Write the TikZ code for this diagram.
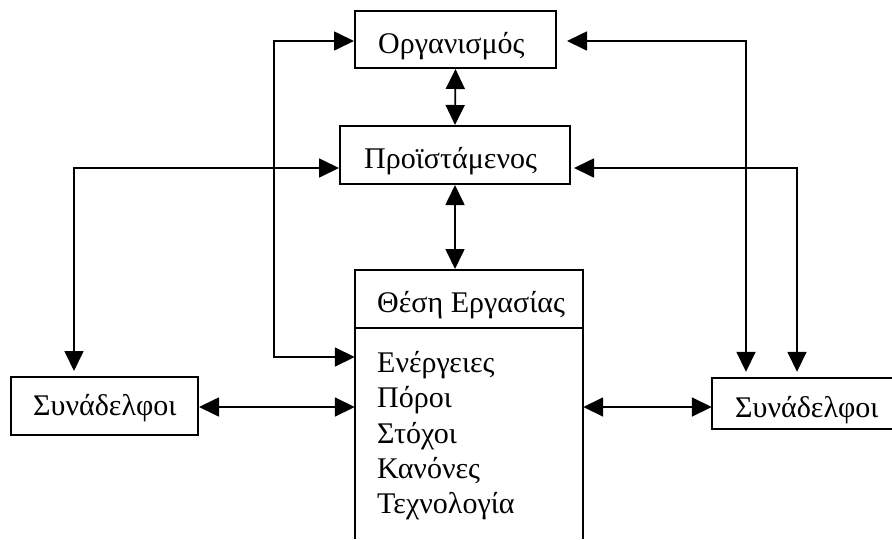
\documentclass[tikz,border=0pt]{standalone}
\usepackage{fontspec}
\setmainfont{Liberation Serif}
\usetikzlibrary{arrows.meta}
\begin{document}
\begin{tikzpicture}[x=1pt,y=-1pt,
  box/.style={draw=black, line width=2pt, rectangle, inner sep=0pt, fill=none},
  openbox/.style={draw=none, rectangle, inner sep=0pt},
  edge3/.style={line width=2pt, line join=miter},
  txt/.style={inner sep=0pt, anchor=base west, font=\fontsize{30}{35}\selectfont},
  link/.style={line width=1.7pt, {Triangle[length=20pt,width=19pt]}-{Triangle[length=20pt,width=19pt]}}
]
\useasboundingbox (0,0) rectangle (892,539);
\fill[white] (0,0) rectangle (892,539);

% boxes
\node[box, minimum width=201pt, minimum height=57pt] (org) at (455.5,39.5) {};
\node[box, minimum width=230pt, minimum height=58pt] (boss) at (455,155) {};
\node[box, minimum width=228pt, minimum height=58pt] (jobhead) at (469,299) {};
\node[openbox, minimum width=228pt, minimum height=232pt] (jobbody) at (469,444) {};
\node[box, minimum width=187pt, minimum height=58pt] (colL) at (104.5,406) {};
\node[openbox, minimum width=180pt, minimum height=51pt] (colR) at (802,403.5) {};

% boxes running past the lower and right edges
\draw[edge3] (jobbody.south west |- 0,539) -- (jobbody.north west) -- (jobbody.north east) -- (jobbody.north east |- 0,539);
\draw[edge3] (colR.north east) -- (colR.north west) -- (colR.south west) -- (colR.south east);

% labels
\node[txt] (torg) at (378,53) {Οργανισμός};
\node[txt] (tboss) at (364,168) {Προϊστάμενος};
\node[txt] (thead) at (377,312) {Θέση Εργασίας};
\node[txt] (t1) at (377,372) {Ενέργειες};
\node[txt] (t2) at (377,407.5) {Πόροι};
\node[txt] (t3) at (377,443) {Στόχοι};
\node[txt] (t4) at (377,478) {Κανόνες};
\node[txt] (t5) at (377,513) {Τεχνολογία};
\node[txt] (tcolL) at (33,415) {Συνάδελφοι};
\node[txt] (tcolR) at (735,417) {Συνάδελφοι};

% bend points of the routed connectors
\coordinate (k1) at (274,357);
\coordinate (k2) at (274,41);
\coordinate (k3) at (74,168);
\coordinate (k4) at (746,41);
\coordinate (k5) at (797,168);
\coordinate (k6) at (0,407);

% connectors
\draw[link] (org.south) -- (boss.north);
\draw[link] (boss.south) -- (boss.south |- jobhead.north);
\draw[link] (org.west |- k2) -- (k2) -- (k1) -- (k1 -| jobbody.west);
\draw[link, shorten >=5pt] (boss.west |- k3) -- (k3) -- (k3 |- colL.north);
\draw[link, shorten <=10pt, shorten >=6pt] (org.east |- k4) -- (k4) -- (k4 |- colR.north);
\draw[link, shorten <=3pt, shorten >=6pt] (boss.east |- k5) -- (k5) -- (k5 |- colR.north);
\draw[link] (colL.east |- k6) -- (k6 -| jobbody.west);
\draw[link] (jobbody.east |- k6) -- (k6 -| colR.west);
\end{tikzpicture}
\end{document}
